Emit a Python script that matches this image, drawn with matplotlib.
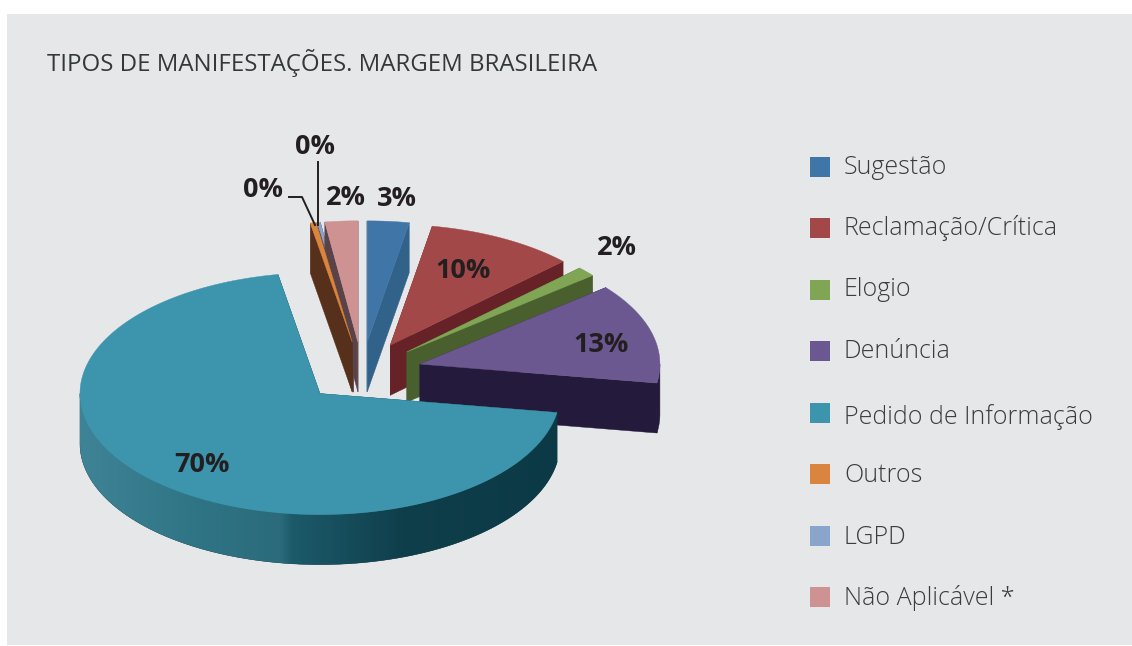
import numpy as np
import matplotlib
matplotlib.use('Agg')
import matplotlib.pyplot as plt
from matplotlib.colors import to_rgb
from matplotlib.patches import Polygon, Rectangle

categories = ['Sugestão', 'Reclamação/Crítica', 'Elogio', 'Denúncia',
              'Pedido de Informação', 'Outros', 'LGPD', 'Não Aplicável *']
values = [2.8, 10.0, 1.3, 13.4, 69.7, 0.4, 0.2, 2.2]
pct_labels = ['3%', '10%', '2%', '13%', '70%', '0%', '0%', '2%']

top_colors = ['#4075a8', '#a34848', '#7fa555', '#6c5890', '#3c95ad', '#d9843f', '#8aa5cb', '#cf9292']
side_colors = ['#30628a', '#662226', '#4a5f2e', '#241a3c', '#0d3c48', '#56301a', '#4b3a55', '#5a4348']
legend_y = [167, 228, 290, 351, 413, 474, 536, 597]
legend_text_y = [168, 228, 290, 352, 417, 475, 538, 598]
label_pos = [(397, 199), (463, 271), (617, 248), (601, 345), (202, 465), (263, 190), (315, 147), (346, 198)]

# pie geometry in pixels
cx, cy = 362, 372
rx, ry = 240, 121
explode = 0.25
depth = 50
draw_order = [6, 7, 5, 0, 1, 2, 3, 4]

# shading of the big slice edge, x in pixels
rim_x = [80, 200, 280, 292, 400, 560]
rim_cols = ['#3f8496', '#2f7485', '#2b6b7b', '#1c5a6a', '#103f4c', '#0b3a46']

W, H = 1132, 646
fig = plt.figure(figsize=(W / 100, H / 100), dpi=100, facecolor='white')
ax = fig.add_axes([0, 0, 1, 1])
ax.set_xlim(0, W)
ax.set_ylim(H, 0)
ax.axis('off')

ax.add_patch(Rectangle((7, 14), W - 7, 631, fc='#e6e7e9', ec='none', zorder=0))

ax.text(47, 63, 'TIPOS DE MANIFESTAÇÕES. MARGEM BRASILEIRA', fontsize=17.3,
        family='Open Sans', color='#33383b', va='center', ha='left')


def point(theta, apex):
    return apex[0] + rx * np.sin(theta), apex[1] - ry * np.cos(theta)


edges = np.radians(np.cumsum([0] + values) * 3.6)
for n, i in enumerate(draw_order):
    t0, t1 = edges[i], edges[i + 1]
    mid = (t0 + t1) / 2
    apex = (cx + explode * rx * np.sin(mid), cy - explode * ry * np.cos(mid))
    z = 2 + n * 0.1

    # flat side faces
    for t in (t0, t1):
        px, py = point(t, apex)
        ax.add_patch(Polygon([apex, (px, py), (px, py + depth), (apex[0], apex[1] + depth)],
                             fc=side_colors[i], ec=side_colors[i], lw=0.3, zorder=z))

    # outer edge, only the part facing the viewer
    a = max(t0, np.pi / 2)
    b = min(t1, 3 * np.pi / 2)
    if b > a:
        ts = np.linspace(a, b, 200)
        xs, ys = point(ts, apex)
        verts = list(zip(xs, ys)) + list(zip(xs[::-1], ys[::-1] + depth))
        rim = Polygon(verts, fc=side_colors[i], ec=side_colors[i], lw=0.3, zorder=z)
        ax.add_patch(rim)
        if categories[i] == 'Pedido de Informação':
            grid = np.linspace(xs.min(), xs.max(), 500)
            rgb = np.array([to_rgb(c) for c in rim_cols])
            img = np.stack([np.interp(grid, rim_x, rgb[:, k]) for k in range(3)], axis=1)[None, :, :]
            im = ax.imshow(img, extent=(xs.min(), xs.max(), ys.max() + depth, ys.min()),
                           aspect='auto', zorder=z + 0.01)
            im.set_clip_path(rim)

    # top face
    ts = np.linspace(t0, t1, 200)
    xs, ys = point(ts, apex)
    ax.add_patch(Polygon([apex] + list(zip(xs, ys)), fc=top_colors[i], ec=top_colors[i],
                         lw=0.3, zorder=z + 0.05))

ax.set_xlim(0, W)
ax.set_ylim(H, 0)

# leader lines of the two small labels
ax.plot([289, 302, 315], [197, 197, 225], color='#231f20', lw=1.4, zorder=5)
ax.plot([318, 318], [162, 225], color='#231f20', lw=1.4, zorder=5)

for lab, (x, y) in zip(pct_labels, label_pos):
    ax.text(x, y, lab, fontsize=19.5, fontweight='bold', family='Open Sans', color='#231f20',
            ha='center', va='center', zorder=6)

for name, col, y, ty in zip(categories, top_colors, legend_y, legend_text_y):
    ax.add_patch(Rectangle((810, y - 10), 20, 20, fc=col, ec='none', zorder=3))
    ax.text(844, ty, name, fontsize=18, family='Open Sans', fontweight='light',
            color='#3a3d40', ha='left', va='center', zorder=3)

fig.savefig('out.png', dpi=100)
